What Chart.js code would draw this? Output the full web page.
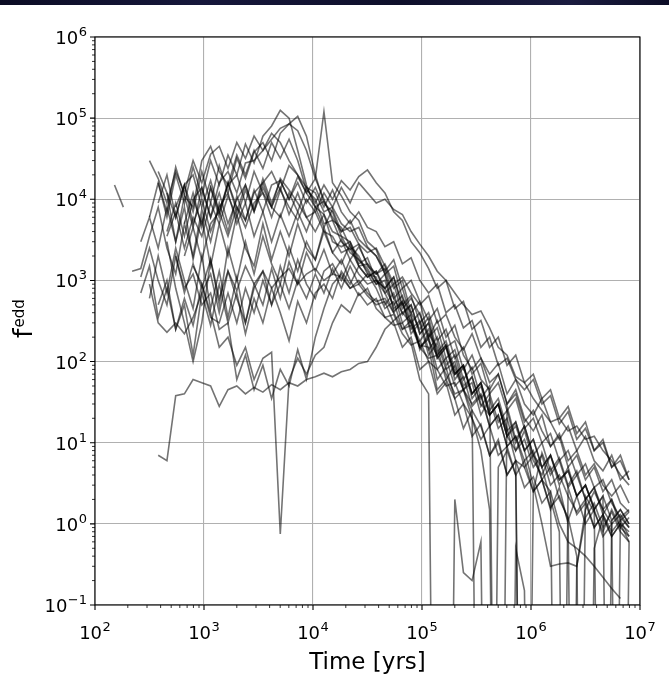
<!DOCTYPE html>
<html>
<head>
<meta charset="utf-8">
<script src="https://cdn.jsdelivr.net/npm/chart.js@4.4.1/dist/chart.umd.min.js"></script>
<style>
  html, body { margin: 0; padding: 0; background: #fff; }
  #wrap { position: relative; width: 669px; height: 691px; }
  #topband {
    position: absolute; left: 0; top: 0; width: 669px; height: 5px;
    background: linear-gradient(90deg, #0b0c24, #16173b 30%, #0e0f2a 60%, #1b1c40 85%, #0c0d26);
  }
</style>
</head>
<body>
<div id="wrap">
  <canvas id="chart" width="669" height="691"></canvas>
  <div id="topband"></div>
</div>
<script>
// shared time grid [yrs]
const times = [151, 182, 219, 263, 316, 380, 457, 550, 661, 794,
  955, 1150, 1380, 1660, 2000, 2400, 2880, 3470, 4170, 5010,
  6030, 7240, 8710, 10500, 12600, 15100, 18200, 21900, 26300, 31600,
  38000, 45700, 55000, 66100, 79400, 95500, 115000, 138000, 166000, 200000,
  240000, 288000, 347000, 417000, 501000, 603000, 724000, 871000, 1050000, 1260000,
  1510000, 1820000, 2190000, 2630000, 3160000, 3800000, 4570000, 5500000, 6610000, 7940000];

// f_edd per run, each starting at times[start]
const runA = [1.5e4, 8.0e3];
const runB1 = [6.0e3, 1.6e4, 6.0e3, 2.0e4, 9.0e3, 2.5e4,
  1.1e4, 3.0e4, 1.5e4, 3.5e4, 2.0e4, 4.8e4, 2.8e4, 6.0e4, 8.0e4, 1.25e5,
  1.0e5, 4.0e4, 1.5e4, 8.0e3, 6.5e3, 4.0e3, 3.5e3, 2.2e3, 1.8e3, 1.4e3,
  900, 1.2e3, 420, 520, 300, 160, 150, 45, 60, 35,
  15, 25, 16, 7, 11, 4, 6, 5, 2.5, 3.5,
  1.5, 2.8, 1.0, 0, 2.2, 1.4, 0.8, 1.5, 0.9, 0.7];
const runB2 = [9.0e3, 2.0e4, 6.0e3, 1.5e4, 7.0e3,
  2.2e4, 9.0e3, 2.6e4, 1.2e4, 3.2e4, 1.8e4, 3.8e4, 5.0e4, 3.0e4, 6.5e4,
  8.5e4, 1.05e5, 6.0e4, 2.0e4, 9.0e3, 7.0e3, 3.5e3, 3.0e3, 1.6e3, 1.9e3,
  1.0e3, 800, 1.1e3, 450, 600, 380, 200, 320, 150, 180,
  80, 120, 60, 45, 70, 30, 40, 18, 25, 14,
  9, 12, 5, 7, 3.5, 5, 2.5, 3.5, 1.8, 1.4];
const runB3 = [4.0e3, 9.0e3, 3.5e3, 1.0e4,
  1.4e4, 6.0e3, 1.6e4, 2.2e4, 1.2e4, 2.8e4, 3.0e4, 4.0e4, 5.5e4, 7.5e4,
  8.5e4, 7.0e4, 4.0e4, 1.8e4, 1.0e4, 5.5e3, 4.5e3, 2.6e3, 2.0e3, 1.2e3,
  1.1e3, 500, 700, 300, 380, 140, 220, 150, 60, 90,
  45, 55, 22, 35, 15, 20, 8, 14, 6, 4,
  7, 3, 5, 2.2, 3, 1.5, 2.2, 0, 1.2, 0.9];
const runB4 = [1.6e4, 7.0e3, 2.5e4, 1.1e4, 8.0e3,
  3.0e4, 4.5e4, 2.2e4, 1.5e4, 3.5e4, 2.0e4, 4.0e4, 2.4e4, 5.0e4, 3.2e4,
  5.5e4, 3.0e4, 1.3e4, 1.0e4, 5.0e3, 5.5e3, 3.0e3, 2.4e3, 2.8e3, 1.5e3,
  1.2e3, 1.6e3, 900, 1.1e3, 700, 500, 650, 300, 380, 200,
  140, 220, 110, 70, 95, 40, 60, 30, 22, 35,
  18, 11, 16, 8, 12, 6, 4.5, 7, 3.5, 4.5];
const runB5 = [3.0e4, 1.8e4, 9.0e3, 2.2e4, 1.2e4, 3.0e4,
  1.6e4, 3.6e4, 4.5e4, 2.4e4, 5.0e4, 3.2e4, 6.0e4, 4.0e4, 6.5e4, 5.0e4,
  3.0e4, 2.0e4, 1.4e4, 1.2e4, 7.0e3, 8.0e3, 5.0e3, 4.0e3, 4.5e3, 2.6e3,
  2.0e3, 1.3e3, 1.8e3, 800, 1.0e3, 550, 320, 450, 200, 280,
  120, 80, 110, 55, 70, 30, 45, 20, 14, 22,
  9, 13, 6, 8, 4, 5.5, 3, 2.2, 3, 1.8];
const runK = [5.0e3, 1.2e4,
  4.5e3, 1.4e4, 6.0e3, 1.6e4, 7.0e3, 1.5e4, 7.5e3, 1.8e4, 9.0e3, 1.7e4,
  1.0e4, 1.9e4, 1.2e4, 1.8e4, 1.2e5, 1.6e4, 1.1e4, 7.0e3, 5.5e3, 3.0e3,
  2.4e3, 1.2e3, 1.5e3, 600, 400, 550, 200, 260, 110, 140,
  60, 85, 35, 50, 0, 28, 11, 16, 7, 10,
  4.5, 6.5, 3, 4.5, 2, 2.8, 1.3, 2, 0.9, 1.2];
const runC1 = [3.5e3, 7.0e3, 2.5e3, 6.0e3,
  3.5e3, 9.0e3, 5.0e3, 1.1e4, 6.0e3, 1.3e4, 7.0e3, 1.4e4, 8.0e3, 6.0e3,
  1.2e4, 7.0e3, 1.4e4, 9.0e3, 1.5e4, 1.0e4, 1.7e4, 1.3e4, 1.9e4, 2.3e4,
  1.6e4, 1.2e4, 7.0e3, 5.5e3, 3.0e3, 2.2e3, 1.4e3, 800, 1.0e3, 450,
  550, 250, 320, 150, 200, 90, 120, 55, 70, 35,
  45, 20, 28, 13, 18, 8, 11, 5, 7, 3.5];
const runC2 = [2.0e3, 4.5e3,
  1.8e3, 5.0e3, 7.0e3, 3.5e3, 8.0e3, 4.5e3, 9.0e3, 1.2e4, 6.0e3, 1.3e4,
  8.0e3, 5.5e3, 1.0e4, 7.0e3, 1.2e4, 8.0e3, 1.4e4, 9.0e3, 1.6e4, 1.2e4,
  9.0e3, 1.0e4, 7.5e3, 6.5e3, 4.0e3, 2.8e3, 2.0e3, 1.3e3, 1.0e3, 700,
  500, 380, 420, 260, 150, 120, 65, 55, 35, 25,
  18, 20, 14, 16, 11, 12, 8, 6, 4, 3];
const runC3 = [1.0e4,
  5.0e3, 1.4e4, 7.0e3, 1.6e4, 8.0e3, 5.5e3, 1.3e4, 7.0e3, 1.5e4, 1.7e4,
  1.0e4, 1.6e4, 9.0e3, 1.4e4, 8.0e3, 1.3e4, 7.0e3, 5.0e3, 7.0e3, 4.5e3,
  4.0e3, 2.6e3, 3.0e3, 1.6e3, 1.9e3, 1.0e3, 700, 900, 400, 500,
  260, 320, 150, 200, 90, 110, 60, 45, 60, 30,
  38, 17, 24, 11, 15, 8, 10, 5, 6, 3.5];
const runM1 = [3.0e3, 6.0e3, 2.5e3, 8.0e3, 3.0e3, 1.1e4, 4.5e3,
  1.4e4, 6.0e3, 1.2e4, 5.0e3, 1.0e4, 1.5e4, 7.0e3, 1.6e4, 2.2e4, 1.3e4,
  2.6e4, 2.0e4, 1.2e4, 8.0e3, 9.5e3, 6.0e3, 4.0e3, 4.5e3, 2.8e3, 2.2e3,
  2.5e3, 1.5e3, 800, 1.0e3, 400, 250, 350, 130, 180, 80,
  45, 65, 30, 22, 30, 12, 8, 11, 5, 7,
  3, 4, 2.2, 1.4, 2, 0.9, 1.3, 0.8, 1.1, 0.7];
const runM2 = [1.3e3, 1.4e3, 3.5e3, 8.0e3, 2.5e3, 1.2e3, 5.0e3, 2.0e3,
  7.5e3, 3.0e3, 9.0e3, 4.0e3, 1.1e4, 5.5e3, 1.2e4, 1.6e4, 8.0e3, 1.8e4,
  1.3e4, 9.0e3, 6.0e3, 7.0e3, 4.0e3, 3.5e3, 2.2e3, 2.5e3, 1.5e3, 1.6e3,
  1.0e3, 800, 500, 650, 300, 400, 180, 120, 160, 70,
  90, 40, 55, 25, 35, 15, 6, 0, 2.5, 7.5,
  4, 6, 2.8, 4, 2, 2.8, 1.5, 2, 1.1, 1.4];
const runM3 = [2.2e4, 1.2e4, 6.0e3, 1.5e4, 5.0e3,
  1.0e4, 4.0e3, 8.0e3, 1.2e4, 5.0e3, 9.0e3, 3.5e3, 7.0e3, 3.0e3, 6.5e3,
  3.5e3, 7.0e3, 4.0e3, 8.0e3, 4.5e3, 7.5e3, 4.0e3, 5.5e3, 3.2e3, 2.5e3,
  2.0e3, 1.2e3, 600, 800, 350, 150, 190, 60, 85, 35,
  45, 20, 11, 16, 7, 9, 4, 6, 2.5, 3.5,
  1.6, 2.2, 1.1, 2.2, 1, 1.5, 0.7, 1.0, 0, 0.6];
const runM4 = [8.0e3, 1.5e4, 2.0e4,
  8.0e3, 1.7e4, 7.0e3, 1.5e4, 2.0e4, 9.0e3, 2.2e4, 1.2e4, 8.0e3, 1.4e4,
  6.5e3, 1.2e4, 6.0e3, 4.0e3, 6.5e3, 3.0e3, 2.6e3, 3.0e3, 1.8e3, 1.3e3,
  900, 1.0e3, 450, 550, 220, 300, 120, 170, 80, 100,
  45, 30, 40, 16, 22, 9, 12, 6, 8, 3.5,
  5, 2, 1.2, 0.4, 0, 0.5, 1.2, 0.7, 1.0, 0.6];
const runM5 = [1.2e4, 3.0e3, 8.0e3, 1.8e3,
  6.0e3, 1.5e3, 5.0e3, 2.0e3, 6.5e3, 2.5e3, 1.5e3, 5.0e3, 1.8e3, 4.0e3,
  2.0e3, 5.0e3, 2.5e3, 1.8e3, 4.5e3, 2.2e3, 1.6e3, 2.8e3, 1.5e3, 1.1e3,
  1.3e3, 700, 900, 380, 500, 220, 300, 110, 150, 70,
  90, 35, 50, 22, 30, 12, 18, 8, 11, 5,
  7, 3.5, 4.5, 2.2, 3, 1.6, 0, 1.1, 1.5, 1.0];
const runL1 = [1.1e3, 2.5e3, 1.0e3, 500, 2.0e3, 700, 1.6e3,
  800, 1.8e3, 600, 1.3e3, 750, 1.5e3, 900, 1.3e3, 800, 1.1e3,
  1.4e3, 900, 1.2e3, 1.4e3, 1.0e3, 1.2e3, 1.1e3, 800, 900, 650,
  500, 550, 300, 150, 200, 80, 100, 40, 55, 22,
  30, 12, 17, 7, 10, 4, 6, 2.8, 3.8, 1.8,
  2.5, 0, 2.8, 1.3, 1.8, 0.9, 1.3, 0.7, 1.0, 0.8];
const runL2 = [600, 2.0e3, 700, 2.5e3, 1.0e3, 450,
  2.0e3, 450, 1.3e3, 350, 1.1e3, 300, 800, 1.3e3, 500, 1.5e3,
  700, 1.8e3, 900, 600, 1.3e3, 1.6e3, 1.0e3, 1.8e3, 1.2e3, 900,
  1.0e3, 700, 400, 550, 250, 320, 140, 200, 90, 120,
  50, 65, 28, 40, 18, 25, 10, 16, 7, 5,
  2, 0.8, 0, 0.3, 1.2, 1.8, 0.9, 1.4, 0.8, 0.6];
const runL3 = [500, 1.0e3, 250, 500, 120,
  700, 280, 900, 300, 700, 220, 600, 300, 800, 400,
  180, 550, 300, 700, 900, 600, 1.3e3, 900, 1.5e3, 1.1e3,
  1.3e3, 800, 1.1e3, 500, 650, 300, 400, 180, 250, 110,
  150, 70, 95, 40, 55, 25, 35, 15, 20, 10,
  13, 6, 8, 4, 5.5, 2.8, 3.5, 1.8, 1.2, 1.5];
const runL4 = [3.0e3, 800, 300, 100,
  300, 1.8e3, 500, 2.5e3, 1.0e3, 3.0e3, 1.2e3, 3.5e3, 1.6e3, 900,
  2.6e3, 1.3e3, 3.0e3, 1.8e3, 4.0e3, 2.2e3, 3.2e3, 1.8e3, 2.6e3, 1.6e3,
  1.2e3, 1.4e3, 600, 400, 500, 220, 300, 120, 160, 70,
  90, 40, 55, 22, 30, 12, 16, 8, 3, 1.0,
  0.3, 0.32, 0.33, 0.3, 1.5, 2.5, 1.5, 1.0, 1.3, 0.9];
const runL5 = [900, 300, 230, 300, 220, 350,
  700, 1.2e3, 400, 1.3e3, 600, 300, 900, 500, 1.4e3, 600,
  1.7e3, 900, 2.2e3, 1.3e3, 2.4e3, 1.2e3, 1.8e3, 1.0e3, 650, 800,
  450, 350, 380, 220, 160, 180, 100, 80, 50, 55,
  30, 20, 8, 1.5, 0, 0, 0.5, 0.15, 0];
const runL6 = [700, 1.5e3, 350, 800, 250, 600, 280,
  900, 350, 300, 700, 300, 800, 400, 1.0e3, 500, 900,
  450, 1.0e3, 600, 1.2e3, 700, 1.4e3, 800, 1.5e3, 900, 1.2e3,
  800, 450, 550, 250, 320, 150, 200, 80, 110, 50,
  65, 28, 38, 16, 22, 9, 12, 5, 7, 3.5,
  2.5, 1.0, 0.6, 0.5, 0.4, 0.3, 0.22, 0.16, 0.12];
const runLow = [7.0, 6.0, 38, 40, 60,
  55, 50, 28, 45, 50, 40, 48, 42, 52, 45,
  55, 50, 60, 65, 72, 65, 75, 80, 95, 100,
  150, 250, 320, 400, 300, 180, 250, 110, 150, 60,
  85, 40, 55, 22, 30, 14, 18, 8, 11, 5,
  7, 3.5, 4.5, 2.2, 3, 1.5, 2.2, 1.1, 1.5, 1.0];
const runDip = [1.5e3,
  900, 400, 150, 200, 90, 150, 60, 110, 130, 0.75,
  60, 110, 70, 120, 150, 300, 500, 400, 700, 500,
  600, 350, 280, 300, 170, 60, 40, 0, 0, 2.0,
  0.25, 0.2, 0.6, 0];
const runE = [2.0e3, 800, 1.2e3,
  500, 700, 250, 300, 60, 120, 45, 90, 35, 80,
  50, 140, 60, 200, 450, 900, 1.2e3, 800, 1.0e3, 700,
  550, 600, 400, 250, 280, 150, 110, 120, 70, 40,
  45, 25, 0, 0, 5, 8, 4, 0];

const runs = [runA, runB1, runB2, runB3, runB4, runB5, runK, runC1, runC2, runC3,
  runM1, runM2, runM3, runM4, runM5, runL1, runL2, runL3, runL4, runL5, runL6,
  runLow, runDip, runE];
const runStarts = [0, 4, 5, 6, 5, 4, 8, 6, 8, 9,
  3, 2, 5, 7, 6, 3, 4, 5, 6, 4, 3,
  5, 9, 7];

const xTickValues = [1e2, 1e3, 1e4, 1e5, 1e6, 1e7];
const xTickExps = ['2', '3', '4', '5', '6', '7'];
const yTickValues = [1e-1, 1e0, 1e1, 1e2, 1e3, 1e4, 1e5, 1e6];
const yTickExps = ['\u22121', '0', '1', '2', '3', '4', '5', '6'];
const minorSteps = [2, 3, 4, 5, 6, 7, 8, 9];

// zero values are sent far below the axis, like a clipped log plot
const FLOOR = 1e-9;

const datasets = runs.map((vals, k) => ({
  data: vals.map((v, i) => ({ x: times[runStarts[k] + i], y: v > 0 ? v : FLOOR })),
  borderColor: 'rgba(0,0,0,0.55)',
  borderWidth: 1.6,
  pointRadius: 0,
  tension: 0,
  fill: false
}));

function minorValues(majors) {
  const out = [];
  for (let i = 0; i < majors.length - 1; i++) {
    minorSteps.forEach(m => out.push(majors[i] * m));
  }
  return out;
}

const BASE_FONT = '18px "DejaVu Sans"';
const EXP_FONT = '13px "DejaVu Sans"';

// "10" with a raised exponent, like matplotlib's mathtext labels
function powerLabel(ctx, exp, x, baseline, align) {
  ctx.font = BASE_FONT;
  const wb = ctx.measureText('10').width;
  ctx.font = EXP_FONT;
  const we = ctx.measureText(exp).width;
  const total = wb + we + 0.5;
  let left = x;
  if (align === 'center') left = x - total / 2;
  if (align === 'right') left = x - total;
  ctx.textAlign = 'left';
  ctx.font = BASE_FONT;
  ctx.fillText('10', left, baseline);
  ctx.font = EXP_FONT;
  ctx.fillText(exp, left + wb + 0.5, baseline - 8);
}

const axisDecor = {
  id: 'axisDecor',
  afterDraw(chart) {
    const { ctx, chartArea: a } = chart;
    const x = chart.scales.x, y = chart.scales.y;
    ctx.save();
    ctx.strokeStyle = '#000';

    // minor ticks
    ctx.lineWidth = 0.8;
    ctx.beginPath();
    minorValues(xTickValues).forEach(v => {
      const px = x.getPixelForValue(v);
      ctx.moveTo(px, a.bottom); ctx.lineTo(px, a.bottom + 3);
    });
    minorValues(yTickValues).forEach(v => {
      const py = y.getPixelForValue(v);
      ctx.moveTo(a.left, py); ctx.lineTo(a.left - 3, py);
    });
    ctx.stroke();

    // major ticks
    ctx.lineWidth = 1.1;
    ctx.beginPath();
    xTickValues.forEach(v => {
      const px = x.getPixelForValue(v);
      ctx.moveTo(px, a.bottom); ctx.lineTo(px, a.bottom + 5);
    });
    yTickValues.forEach(v => {
      const py = y.getPixelForValue(v);
      ctx.moveTo(a.left, py); ctx.lineTo(a.left - 5, py);
    });
    ctx.stroke();

    // frame
    ctx.strokeRect(a.left, a.top, a.right - a.left, a.bottom - a.top);

    // tick labels
    ctx.fillStyle = '#000';
    ctx.textBaseline = 'alphabetic';
    xTickValues.forEach((v, i) => {
      powerLabel(ctx, xTickExps[i], x.getPixelForValue(v), a.bottom + 34, 'center');
    });
    yTickValues.forEach((v, i) => {
      powerLabel(ctx, yTickExps[i], a.left - 8, y.getPixelForValue(v) + 7, 'right');
    });

    // axis titles
    ctx.textAlign = 'center';
    ctx.font = '23px "DejaVu Sans"';
    ctx.fillText('Time [yrs]', (a.left + a.right) / 2, 669);

    ctx.translate(32, 338);
    ctx.rotate(-Math.PI / 2);
    ctx.textAlign = 'left';
    ctx.font = '27px "DejaVu Sans"';
    ctx.fillText('f', 0, 0);
    const fw = ctx.measureText('f').width;
    ctx.font = '15px "DejaVu Sans"';
    ctx.fillText('edd', fw + 1, -8);
    ctx.restore();
  }
};

new Chart(document.getElementById('chart'), {
  type: 'line',
  data: { datasets },
  options: {
    responsive: false,
    animation: false,
    devicePixelRatio: 1,
    layout: { padding: { top: 37, right: 29, left: 0, bottom: 0 } },
    plugins: { legend: { display: false }, tooltip: { enabled: false } },
    scales: {
      x: {
        type: 'logarithmic',
        min: 1e2,
        max: 1e7,
        afterBuildTicks: scale => { scale.ticks = xTickValues.map(v => ({ value: v })); },
        afterFit: scale => { scale.height = 86; },
        grid: { color: '#b0b0b0', lineWidth: 1.1, drawTicks: false },
        border: { display: false },
        ticks: { display: false }
      },
      y: {
        type: 'logarithmic',
        min: 1e-1,
        max: 1e6,
        afterBuildTicks: scale => { scale.ticks = yTickValues.map(v => ({ value: v })); },
        afterFit: scale => { scale.width = 95; },
        grid: { color: '#b0b0b0', lineWidth: 1.1, drawTicks: false },
        border: { display: false },
        ticks: { display: false }
      }
    }
  },
  plugins: [axisDecor]
});
</script>
</body>
</html>
